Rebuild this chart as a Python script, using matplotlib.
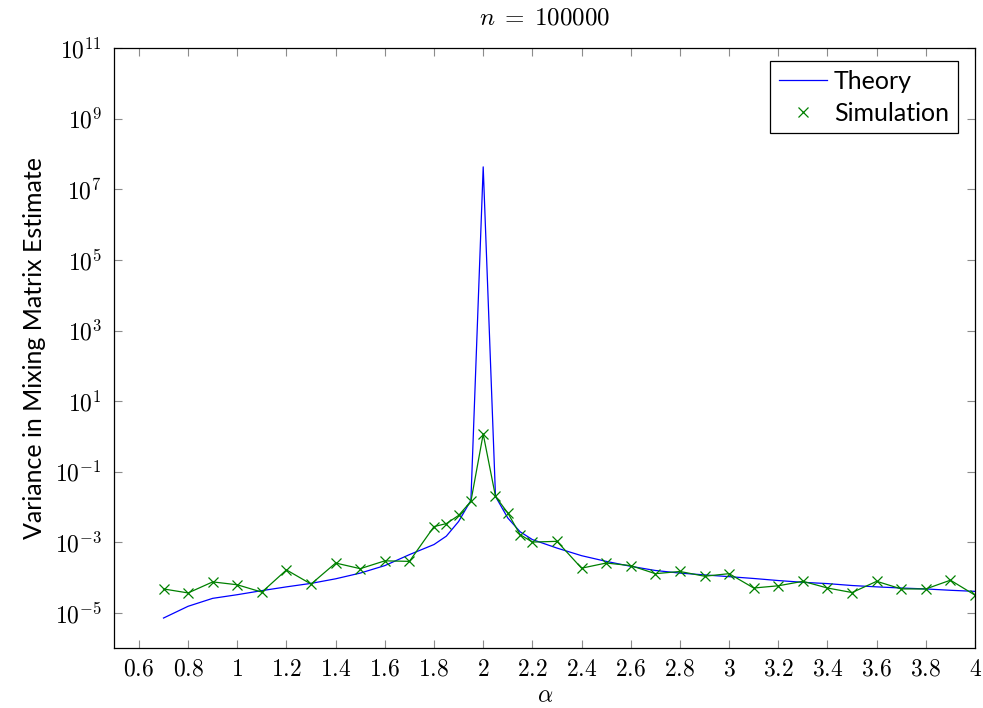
import numpy as np
import matplotlib
matplotlib.use('Agg')
import matplotlib.pyplot as plt
import matplotlib.ticker as mticker
from matplotlib.lines import Line2D

plt.rcParams['mathtext.fontset'] = 'cm'

# -------------------------------------------------------------------------------------
# Data
alpha = [0.7, 0.8, 0.9, 1.0, 1.1, 1.2, 1.3, 1.4, 1.5, 1.6, 1.7,
         1.8, 1.85, 1.9, 1.95, 2.0, 2.05, 2.1, 2.15, 2.2,
         2.3, 2.4, 2.5, 2.6, 2.7, 2.8, 2.9, 3.0, 3.1, 3.2, 3.3, 3.4, 3.5,
         3.6, 3.7, 3.8, 3.9, 4.0]
theory = [7.2e-6, 1.55e-5, 2.6e-5, 3.3e-5, 4.3e-5, 5.5e-5, 6.9e-5, 9.3e-5, 1.35e-4, 2.2e-4, 4.5e-4,
          8.7e-4, 1.5e-3, 3.9e-3, 1.55e-2, 4.3e7, 2.0e-2, 4.9e-3, 2.0e-3, 1.2e-3,
          6.9e-4, 4.2e-4, 2.9e-4, 2.1e-4, 1.6e-4, 1.35e-4, 1.2e-4, 1.07e-4, 9.5e-5, 8.3e-5, 7.4e-5,
          6.8e-5, 6.0e-5, 5.5e-5, 5.1e-5, 4.8e-5, 4.4e-5, 4.1e-5]
simulation = [4.8e-5, 3.7e-5, 7.6e-5, 6.3e-5, 3.9e-5, 1.66e-4, 6.6e-5, 2.6e-4, 1.8e-4, 3.0e-4, 2.9e-4,
              2.8e-3, 3.4e-3, 5.8e-3, 1.45e-2, 1.17, 2.0e-2, 6.8e-3, 1.66e-3, 1.02e-3,
              1.07e-3, 1.86e-4, 2.6e-4, 2.2e-4, 1.3e-4, 1.5e-4, 1.1e-4, 1.3e-4, 5.1e-5, 5.9e-5, 7.9e-5,
              5.1e-5, 3.8e-5, 7.9e-5, 4.8e-5, 4.8e-5, 8.5e-5, 3.2e-5]
x_ticks = [0.6, 0.8, 1.0, 1.2, 1.4, 1.6, 1.8, 2.0, 2.2, 2.4, 2.6, 2.8, 3.0, 3.2, 3.4, 3.6, 3.8, 4.0]
y_ticks = [1e-5, 1e-3, 1e-1, 1e1, 1e3, 1e5, 1e7, 1e9, 1e11]
# -------------------------------------------------------------------------------------

sans_font = 'Lato'
label_size = 17

fig = plt.figure(figsize=(9.83, 7.08), dpi=100)
ax = fig.add_axes([0.1163, 0.0843, 0.9919 - 0.1163, 0.9322 - 0.0843])

ax.plot(alpha, theory, color='#0000ff', lw=0.9)
ax.plot(alpha, simulation, color='#008000', lw=0.9, marker='x', markersize=7, markeredgewidth=0.9)

ax.set_yscale('log')
ax.set_xlim(0.5, 4.0)
ax.set_ylim(1e-6, 1e11)

ax.xaxis.set_major_locator(mticker.FixedLocator(x_ticks))
ax.xaxis.set_major_formatter(mticker.FuncFormatter(lambda v, p: r'$%g$' % round(v, 2)))
ax.yaxis.set_major_locator(mticker.FixedLocator(y_ticks))
ax.yaxis.set_major_formatter(mticker.FuncFormatter(lambda v, p: r'$10^{%d}$' % int(round(np.log10(v)))))
ax.yaxis.set_minor_locator(mticker.NullLocator())
ax.xaxis.set_minor_locator(mticker.NullLocator())

ax.tick_params(which='both', direction='in', length=6, width=0.8, color='0.55',
               top=True, right=True, labelsize=label_size, pad=6)
ax.tick_params(axis='y', pad=9)
for sp in ax.spines.values():
    sp.set_linewidth(0.9)

ax.set_title(r'$n\;=\;100000$', fontsize=label_size + 1, pad=17)
ax.set_xlabel(r'$\alpha$', fontsize=label_size, labelpad=2)
ax.set_ylabel('Variance in Mixing Matrix Estimate', fontsize=18, family=sans_font, labelpad=6)

handles = [Line2D([], [], color='#0000ff', lw=0.9),
           Line2D([], [], color='#008000', lw=0, marker='x', markersize=7, markeredgewidth=0.9)]
leg = ax.legend(handles, ['Theory', 'Simulation'], loc='upper right',
                bbox_to_anchor=(0.980, 0.978), borderaxespad=0, fancybox=False,
                framealpha=1, edgecolor='black', prop={'family': sans_font, 'size': 18},
                handlelength=1.9, handletextpad=0.3, borderpad=0.35, labelspacing=0.35)
leg.get_frame().set_linewidth(0.9)

fig.savefig('out.png', dpi=100)
plt.close()
